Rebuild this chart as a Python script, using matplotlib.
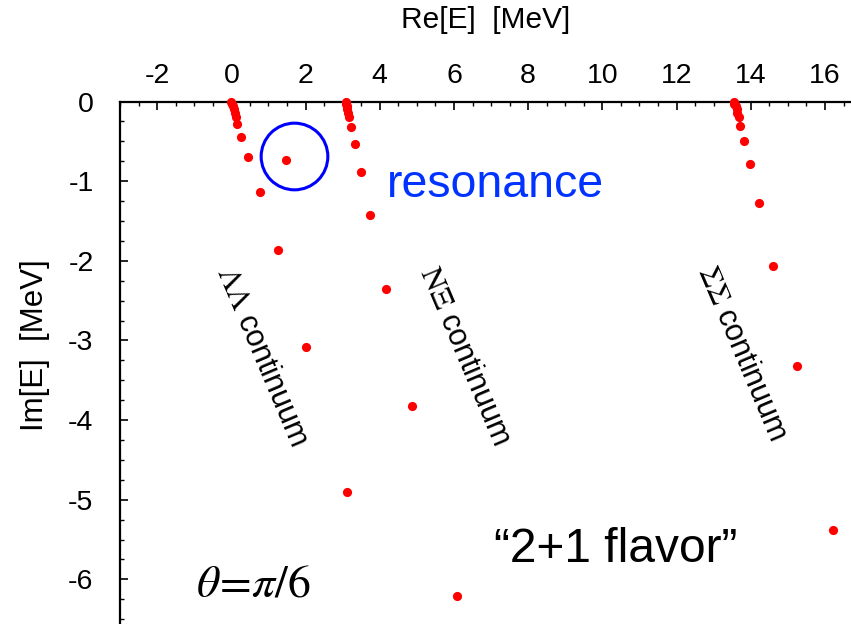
import matplotlib
matplotlib.use("Agg")
import matplotlib.pyplot as plt
from matplotlib.ticker import MultipleLocator

plt.rcParams['font.family'] = ['Liberation Sans', 'DejaVu Sans']
plt.rcParams['mathtext.fontset'] = 'stix'
plt.rcParams['axes.unicode_minus'] = False

# Complex-scaled eigenvalues (Re[E], Im[E]) in MeV, theta = pi/6
ll_re = [-0.02, 0.01, 0.04, 0.06, 0.09, 0.12, 0.16, 0.27, 0.46, 0.77, 1.25, 2.00, 3.13]
ll_im = [0.00, -0.03, -0.06, -0.10, -0.14, -0.19, -0.28, -0.45, -0.70, -1.14, -1.87, -3.08, -4.90]

nx_re = [3.08, 3.10, 3.11, 3.13, 3.15, 3.18, 3.23, 3.34, 3.49, 3.75, 4.16, 4.88, 6.07]
nx_im = [0.00, -0.03, -0.06, -0.10, -0.15, -0.20, -0.32, -0.53, -0.88, -1.43, -2.36, -3.82, -6.21]

ss_re = [13.54, 13.56, 13.59, 13.62, 13.64, 13.67, 13.72, 13.82, 13.98, 14.23, 14.59, 15.24, 16.21]
ss_im = [0.00, -0.03, -0.06, -0.10, -0.15, -0.20, -0.31, -0.49, -0.79, -1.27, -2.06, -3.32, -5.38]

res_re = [1.47]
res_im = [-0.74]

xticks = [-2, 0, 2, 4, 6, 8, 10, 12, 14, 16]
yticks = [0, -1, -2, -3, -4, -5, -6]

W, H = 851, 624
fig = plt.figure(figsize=(W / 100, H / 100), dpi=100)
ax = fig.add_axes([120 / W, 0, (W - 120) / W, (H - 101.5) / H])

ax.set_xlim(-3, 16.70)
ax.set_ylim(-6.56, 0)

red = '#ff0000'
for re, im in [(ll_re, ll_im), (nx_re, nx_im), (ss_re, ss_im), (res_re, res_im)]:
    ax.plot(re, im, 'o', color=red, ms=6.6, mec='none', clip_on=False, zorder=3)

# ring around the resonance pole
ax.plot([1.68], [-0.69], 'o', ms=48, mfc='none', mec='#0000ff', mew=2.2, zorder=3)

ax.spines['bottom'].set_visible(False)
ax.spines['right'].set_visible(False)
ax.spines['top'].set_linewidth(1.6)
ax.spines['left'].set_linewidth(1.6)

ax.xaxis.set_ticks_position('top')
ax.xaxis.set_label_position('top')
ax.set_xticks(xticks)
ax.set_xticklabels([str(t) for t in xticks])
ax.set_yticks(yticks)
ax.set_yticklabels([str(t) for t in yticks])
ax.xaxis.set_minor_locator(MultipleLocator(0.5))
ax.yaxis.set_minor_locator(MultipleLocator(0.25))
ax.tick_params(which='major', direction='in', length=5.5, width=1.2, labelsize=20.5)
ax.tick_params(axis='x', which='major', pad=9)
ax.tick_params(axis='y', which='major', pad=19)
ax.tick_params(which='minor', direction='in', length=3, width=1.0)
ax.tick_params(axis='x', which='both', top=True, bottom=False)
ax.tick_params(axis='y', which='both', left=True, right=False)

ax.set_xlabel('Re[E]  [MeV]', fontsize=21.5)
ax.xaxis.set_label_coords(0.5, 1 + (101.5 - 6) / (H - 101.5))
ax.xaxis.label.set_va('top')
ax.set_ylabel('Im[E]  [MeV]', fontsize=22.5)
ax.yaxis.set_label_coords(-(120 - 35) / (W - 120), 1 - (345 - 101.5) / (H - 101.5))
ax.yaxis.label.set_va('center')

ax.text(7.13, -1.05, 'resonance', color='#0033ff', fontsize=33.5,
        ha='center', va='center')
ax.text(10.35, -5.62, '\u201c2+1 flavor\u201d', color='black', fontsize=34.5,
        ha='center', va='center')
ax.text(0.59, -6.06, r'$\theta\!=\!\pi/6$', color='black', fontsize=33,
        ha='center', va='center')

cont_kw = dict(fontsize=22, rotation=-67, rotation_mode='anchor',
               ha='center', va='center', color='black')
ax.text(0.82, -3.2, r'$\mathrm{\Lambda\Lambda}$ continuum', **cont_kw)
ax.text(6.29, -3.2, r'$\mathrm{N\Xi}$ continuum', **cont_kw)
ax.text(13.75, -3.16, r'$\mathrm{\Sigma\Sigma}$ continuum', **cont_kw)

fig.savefig('out.png', dpi=100)
